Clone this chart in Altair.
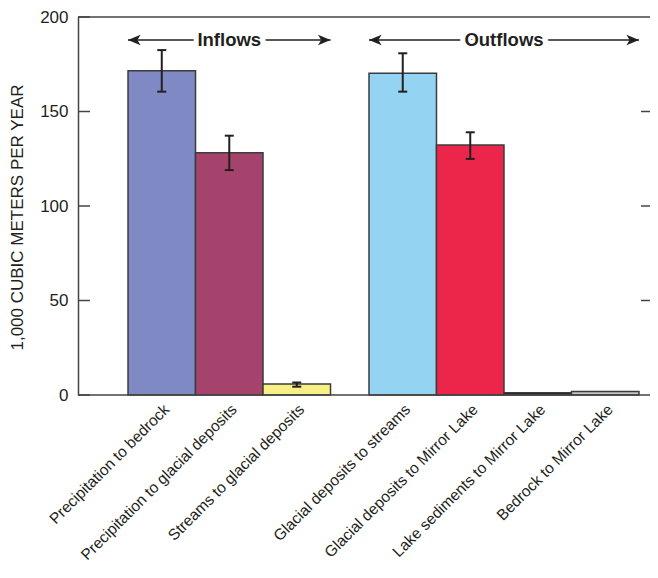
import altair as alt
import pandas as pd

# ---- data ----
categories = [
    "Precipitation to bedrock",
    "Precipitation to glacial deposits",
    "Streams to glacial deposits",
    "Glacial deposits to streams",
    "Glacial deposits to Mirror Lake",
    "Lake sediments to Mirror Lake",
    "Bedrock to Mirror Lake",
]
groups = ["Inflows", "Inflows", "Inflows", "Outflows", "Outflows", "Outflows", "Outflows"]
values = [171.6, 128.2, 5.8, 170.2, 132.3, 1.2, 1.9]
err_low = [160.5, 119.0, 4.4, 160.5, 124.9, None, None]
err_high = [182.5, 137.2, 6.6, 180.8, 139.0, None, None]
colors = ["#7f89c3", "#a5436d", "#f6f087", "#94d3f2", "#ec264b", "#231f20", "#c4c4c4"]
y_ticks = [0, 50, 100, 150, 200]
right_ticks = [50, 100, 150]
group_names = ["Inflows", "Outflows"]

# ---- layout constants ----
GROUP_GAP = 0.57          # gap between the two groups, in bar widths
W, H = 572, 378
PX_PER_BAR = 67.5
FONT = "Liberation Sans"
INK = "#231f20"
FRAME = "#444444"

pos = []
for i, g in enumerate(groups):
    pos.append(i + (GROUP_GAP if g == "Outflows" else 0.0))

bars = pd.DataFrame({
    "category": categories,
    "group": groups,
    "value": values,
    "lo": err_low,
    "hi": err_high,
    "x0": pos,
    "x1": [p + 1 for p in pos],
    "xc": [p + 0.5 for p in pos],
})
errs = bars.dropna(subset=["lo", "hi"])

arrows = pd.DataFrame({
    "group": group_names,
    "start": [bars[bars.group == g].x0.min() for g in group_names],
    "end": [bars[bars.group == g].x1.max() for g in group_names],
})
arrows["mid"] = (arrows["start"] + arrows["end"]) / 2

ticks = pd.DataFrame({"t": y_ticks})
rticks = pd.DataFrame({"t": right_ticks})
frame_h = pd.DataFrame({"t": [0, 200]})

x_scale = alt.Scale(domain=[-0.741, -0.741 + W / PX_PER_BAR], nice=False, zero=False)
y_scale = alt.Scale(domain=[0, 200], nice=False)

base = alt.Chart(bars)

bar_layer = base.mark_rect(stroke="#3c3c3c", strokeWidth=1.5).encode(
    x=alt.X("x0:Q", scale=x_scale, axis=None),
    x2="x1:Q",
    y=alt.Y(
        "value:Q",
        scale=y_scale,
        axis=alt.Axis(
            values=y_ticks, ticks=False, domain=True, domainColor=FRAME, domainWidth=1.5,
            grid=False,
            labelFont=FONT, labelFontSize=17, labelColor=INK, labelPadding=10,
            title="1,000 CUBIC METERS PER YEAR", titleFont=FONT, titleFontSize=17,
            titleFontWeight="normal", titleColor=INK,
            titleX=-61, titleY=200, titleAlign="center", titleBaseline="middle",
        ),
    ),
    y2=alt.datum(0),
    color=alt.Color("category:N", scale=alt.Scale(domain=categories, range=colors), legend=None),
)

frame_lines = alt.Chart(frame_h).mark_rule(color=FRAME, strokeWidth=1.5).encode(
    y=alt.Y("t:Q", scale=y_scale), x=alt.value(0), x2=alt.value(W)
)

err_rule = alt.Chart(errs).mark_rule(color=INK, strokeWidth=2).encode(
    x=alt.X("xc:Q", scale=x_scale), y=alt.Y("lo:Q", scale=y_scale), y2="hi:Q"
)
cap_hi = alt.Chart(errs).mark_rule(color=INK, strokeWidth=2, xOffset=-4.5, x2Offset=4.5).encode(
    x=alt.X("xc:Q", scale=x_scale), x2="xc:Q", y=alt.Y("hi:Q", scale=y_scale)
)
cap_lo = alt.Chart(errs).mark_rule(color=INK, strokeWidth=2, xOffset=-4.5, x2Offset=4.5).encode(
    x=alt.X("xc:Q", scale=x_scale), x2="xc:Q", y=alt.Y("lo:Q", scale=y_scale)
)

tick_left = alt.Chart(ticks).mark_rule(color=FRAME, strokeWidth=1.5).encode(
    y=alt.Y("t:Q", scale=y_scale), x=alt.value(0), x2=alt.value(12)
)
tick_right = alt.Chart(rticks).mark_rule(color=FRAME, strokeWidth=1.5).encode(
    y=alt.Y("t:Q", scale=y_scale), x=alt.value(W - 9), x2=alt.value(W)
)

labels = base.mark_text(
    angle=315, align="right", baseline="middle", font=FONT, fontSize=15.5, color=INK, xOffset=5
).encode(
    x=alt.X("xc:Q", scale=x_scale), y=alt.value(H + 12), text="category:N"
)

arrow_line = alt.Chart(arrows).mark_rule(color=INK, strokeWidth=1.5).encode(
    x=alt.X("start:Q", scale=x_scale), x2="end:Q", y=alt.value(23)
)
arrow_mask = alt.Chart(arrows).mark_text(
    font=FONT, fontSize=18.5, fontWeight="bold", stroke="white", strokeWidth=10,
    fill="white", baseline="middle"
).encode(x=alt.X("mid:Q", scale=x_scale), y=alt.value(23), text="group:N")
arrow_text = alt.Chart(arrows).mark_text(
    font=FONT, fontSize=18.5, fontWeight="bold", color=INK, baseline="middle"
).encode(x=alt.X("mid:Q", scale=x_scale), y=alt.value(23), text="group:N")

head_right = alt.Chart(arrows).mark_point(
    shape="M0,0L-1,-0.42L-0.75,0L-1,0.42Z", size=625, filled=True, fill=INK, stroke=None, opacity=1
).encode(x=alt.X("end:Q", scale=x_scale), y=alt.value(23))
head_left = alt.Chart(arrows).mark_point(
    shape="M0,0L1,-0.42L0.75,0L1,0.42Z", size=625, filled=True, fill=INK, stroke=None, opacity=1
).encode(x=alt.X("start:Q", scale=x_scale), y=alt.value(23))

chart = alt.layer(
    bar_layer, frame_lines, err_rule, cap_hi, cap_lo, tick_left, tick_right, labels,
    arrow_line, arrow_mask, arrow_text, head_right, head_left,
).properties(
    width=W, height=H,
    autosize=alt.AutoSizeParams(type="none"),
    padding={"left": 70, "top": 9, "right": 0, "bottom": 169},
).configure_view(stroke=None)

chart.save("out.html", embed_options={"renderer": "svg", "actions": False})
